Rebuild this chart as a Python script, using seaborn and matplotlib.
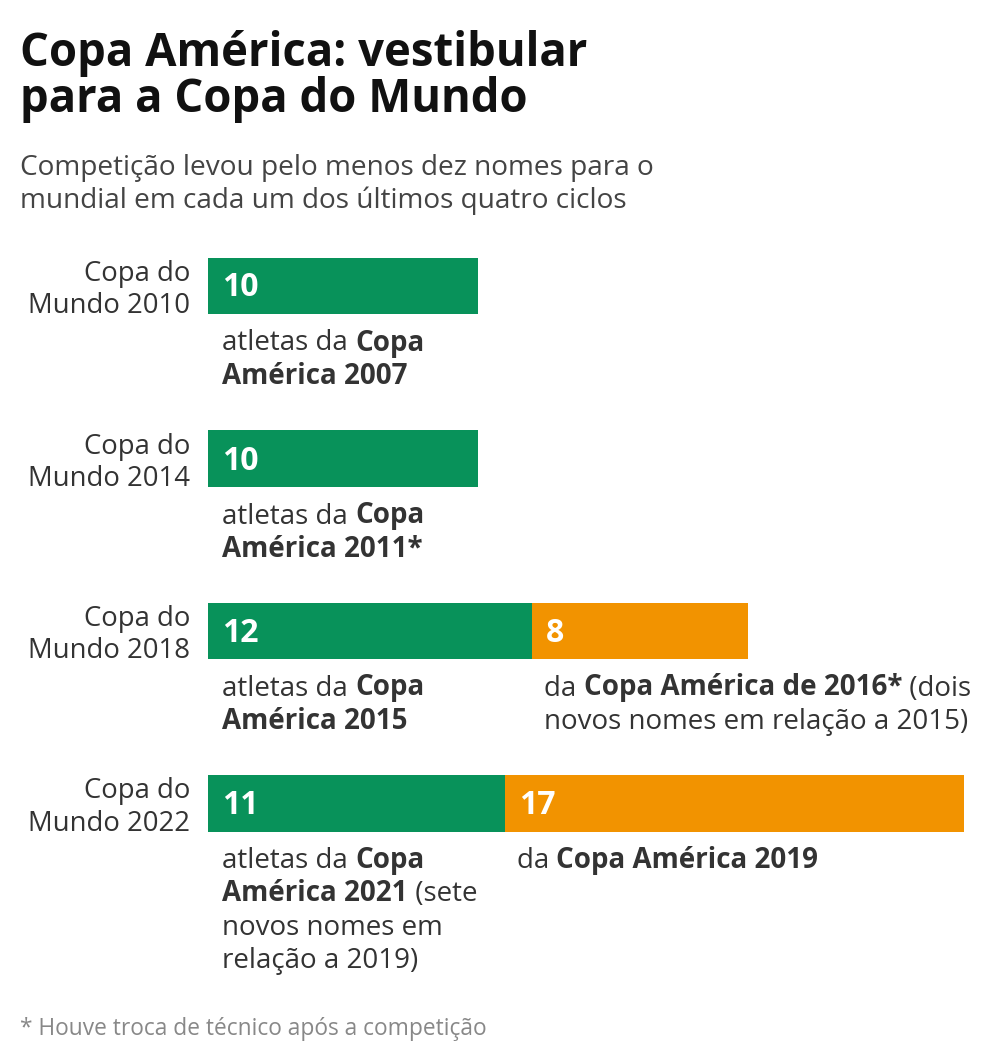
import pandas as pd
import matplotlib.pyplot as plt
import seaborn as sns

sns.set_theme(style="white")
plt.rcParams["font.family"] = ["Open Sans", "DejaVu Sans"]

# data
cups = ["Copa do\nMundo 2010", "Copa do\nMundo 2014", "Copa do\nMundo 2018", "Copa do\nMundo 2022"]
previous_cup = [10, 10, 12, 11]
second_cup = [0, 0, 8, 17]
green_notes = [
    [[("atletas da ", False), ("Copa", True)], [("América 2007", True)]],
    [[("atletas da ", False), ("Copa", True)], [("América 2011*", True)]],
    [[("atletas da ", False), ("Copa", True)], [("América 2015", True)]],
    [[("atletas da ", False), ("Copa", True)], [("América 2021", True), (" (sete", False)],
     [("novos nomes em", False)], [("relação a 2019)", False)]],
]
orange_notes = [
    None,
    None,
    [[("da ", False), ("Copa América de 2016*", True), (" (dois", False)],
     [("novos nomes em relação a 2015)", False)]],
    [[("da ", False), ("Copa América 2019", True)]],
]

GREEN = "#08925a"
ORANGE = "#f29300"
TEXT = "#333333"

df = pd.DataFrame({
    "cup": cups,
    "green": previous_cup,
    "total": [a + b for a, b in zip(previous_cup, second_cup)],
})

W, H = 984, 1057
fig = plt.figure(figsize=(W / 100, H / 100), dpi=100)


def px(x, y):
    return x / W, 1 - y / H


# axes: left at 208px, 27px per unit, bars centred at 286..803.5 px
step = 172.5
top = 286 - step / 2
bottom = 803.5 + step / 2
ax = fig.add_axes([208 / W, 1 - bottom / H, 28 * 27 / W, (bottom - top) / H])

sns.barplot(data=df, x="total", y="cup", color=ORANGE, width=0.325,
            saturation=1, ax=ax, orient="h", linewidth=0)
sns.barplot(data=df, x="green", y="cup", color=GREEN, width=0.325,
            saturation=1, ax=ax, orient="h", linewidth=0)
ax.set_xlim(0, 28)
ax.set_ylim(3.5, -0.5)
ax.axis("off")

renderer = fig.canvas.get_renderer()


def rich_line(x, y, parts, size=20, color=TEXT):
    cx = x
    for txt, bold in parts:
        t = fig.text(*px(cx, y), txt, fontsize=size, color=color,
                     fontweight="bold" if bold else "normal", va="baseline", ha="left")
        bb = t.get_window_extent(renderer)
        cx += bb.width


bar_centers = [286, 459, 631, 803.5]
for i, cup in enumerate(cups):
    yc = bar_centers[i]
    fig.text(*px(190, yc + 4), cup, ha="right", va="center", fontsize=19.8,
             color=TEXT, linespacing=1.23)
    # values inside bars
    fig.text(*px(222, yc + 2), str(previous_cup[i]), fontsize=23, fontweight="bold",
             color="white", va="center", ha="left")
    if second_cup[i]:
        xo = 208 + previous_cup[i] * 27 + 14
        fig.text(*px(xo, yc + 2), str(second_cup[i]), fontsize=23, fontweight="bold",
                 color="white", va="center", ha="left")
    bar_bottom = yc + 28
    for j, line in enumerate(green_notes[i]):
        rich_line(222, bar_bottom + 36.5 + j * 33.3, line)
    if orange_notes[i]:
        xo = 208 + previous_cup[i] * 27 + 12
        for j, line in enumerate(orange_notes[i]):
            rich_line(xo, bar_bottom + 36.5 + j * 33.3, line)

fig.text(*px(20, 66), "Copa América: vestibular", fontsize=32.8, fontweight="bold",
         color="#111111", va="baseline")
fig.text(*px(20, 112), "para a Copa do Mundo", fontsize=32.8, fontweight="bold",
         color="#111111", va="baseline")
fig.text(*px(20, 175), "Competição levou pelo menos dez nomes para o", fontsize=20.2,
         color="#444444", va="baseline")
fig.text(*px(20, 208), "mundial em cada um dos últimos quatro ciclos", fontsize=20.2,
         color="#444444", va="baseline")
fig.text(*px(20, 1035), "* Houve troca de técnico após a competição", fontsize=16.4,
         color="#888888", va="baseline")

fig.savefig("out.png", dpi=100, facecolor="white")
